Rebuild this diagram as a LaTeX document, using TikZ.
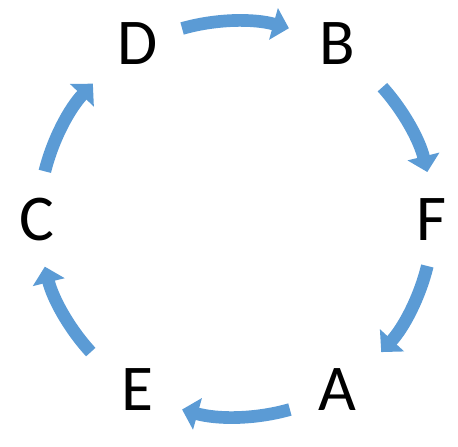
\documentclass[tikz,border=0pt]{standalone}
\usepackage{fontspec}
\setmainfont{Carlito}
\usetikzlibrary{arrows.meta}

\definecolor{flowblue}{RGB}{91,155,213}

\tikzset{every picture/.style={line width=0.75pt}}
\tikzset{
  letter/.style={inner sep=0pt, font=\fontsize{49}{58}\selectfont},
  flow/.style={color=flowblue, line width=9.5pt, -{Triangle[width=24pt,length=12pt]}}
}

\begin{document}
\begin{tikzpicture}[x=0.75pt,y=0.75pt,yscale=-1,xscale=1]
\useasboundingbox (0,0) rectangle (458,447);

% centre of the ring
\coordinate (o) at (236,219);

% Text Nodes
\node [letter] (D) at (137.5,44) {D};
\node [letter] (B) at (337,44) {B};
\node [letter] (F) at (432,220) {F};
\node [letter] (A) at (337,390) {A};
\node [letter] (E) at (137,390) {E};
\node [letter] (C) at (37,220) {C};

% Curved arrows
% D -> B
\draw [flow] ([shift={(-105.8:198)}]o) arc [start angle=-105.8, end angle=-74.5, radius=198];
% B -> F
\draw [flow] ([shift={(-42:197)}]o) arc [start angle=-42, end angle=-13.8, radius=197];
% F -> A
\draw [flow] ([shift={(13.8:197)}]o) arc [start angle=13.8, end angle=42.5, radius=197];
% A -> E
\draw [flow] ([shift={(74.2:198)}]o) arc [start angle=74.2, end angle=105.8, radius=198];
% E -> C
\draw [flow] ([shift={(137.5:197)}]o) arc [start angle=137.5, end angle=166, radius=197];
% C -> D
\draw [flow] ([shift={(194:197)}]o) arc [start angle=194, end angle=223.4, radius=197];

\end{tikzpicture}
\end{document}
